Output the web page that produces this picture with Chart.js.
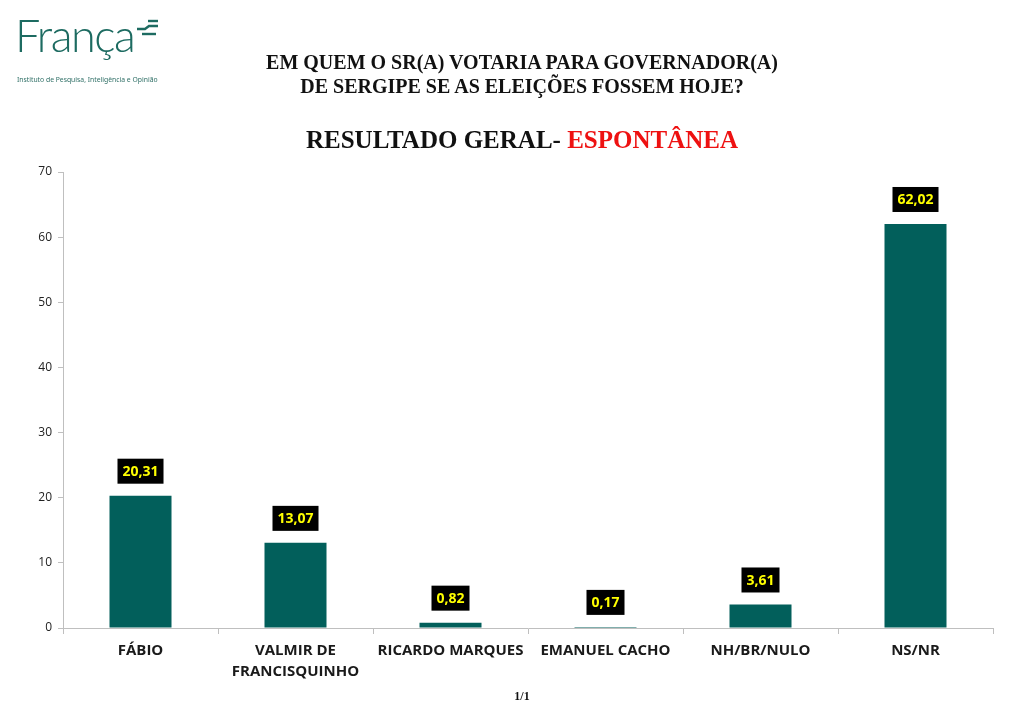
<!DOCTYPE html>
<html>
<head>
<meta charset="utf-8">
<script src="https://cdn.jsdelivr.net/npm/chart.js@4.4.1/dist/chart.umd.min.js"></script>
<style>
  html, body { margin: 0; padding: 0; background: #fff; }
  body { width: 1026px; height: 721px; position: relative; overflow: hidden; }
  #wrap { position: absolute; left: 0; top: 0; width: 1026px; height: 721px; }
  .logo { position: absolute; left: 15px; top: 13px; color: #1d6b61; font-family: "Lato", sans-serif; font-weight: 300; font-size: 45px; letter-spacing: -1.5px; line-height: 1; }
  .logo-sub { position: absolute; left: 17px; top: 75px; color: #2f6f66; font-family: "Noto Sans", sans-serif; font-size: 6.8px; white-space: nowrap; }
  .t1 { position: absolute; left: 0; width: 1044px; text-align: center; top: 50px; font-family: "Liberation Serif", serif; font-weight: bold; font-size: 20px; line-height: 24px; color: #111; }
  .t2 { position: absolute; left: 0; width: 1044px; text-align: center; top: 126px; font-family: "Liberation Serif", serif; font-weight: bold; font-size: 25px; color: #111; }
  .t2 span { color: #ee1111; }
  .page { position: absolute; left: 0; width: 1044px; text-align: center; top: 689px; font-family: "Liberation Serif", serif; font-weight: bold; font-size: 12px; color: #111; }
</style>
</head>
<body>
<div id="wrap"><canvas id="myChart"></canvas></div>
<div class="logo">França</div>
<svg style="position:absolute;left:134px;top:18px" width="28" height="22">
  <line x1="14" y1="3" x2="24" y2="3" stroke="#1d6b61" stroke-width="2.4"/>
  <polyline points="3,11 11,11 15,8 24,8" fill="none" stroke="#1d6b61" stroke-width="2.4"/>
  <line x1="8" y1="16" x2="22" y2="16" stroke="#1d6b61" stroke-width="2.4"/>
</svg>
<div class="logo-sub">Instituto de Pesquisa, Inteligência e Opinião</div>
<div class="t1">EM QUEM O SR(A) VOTARIA PARA GOVERNADOR(A)<br>DE SERGIPE SE AS ELEIÇÕES FOSSEM HOJE?</div>
<div class="t2">RESULTADO GERAL- <span>ESPONTÂNEA</span></div>
<div class="page">1/1</div>
<script>
const categorias = ["FÁBIO", ["VALMIR DE", "FRANCISQUINHO"], "RICARDO MARQUES", "EMANUEL CACHO", "NH/BR/NULO", "NS/NR"];
const percentuais = [20.31, 13.07, 0.82, 0.17, 3.61, 62.02];
const rotulos = ["20,31", "13,07", "0,82", "0,17", "3,61", "62,02"];

// caixas pretas com o valor em amarelo acima de cada barra
const caixaValor = {
    id: "caixaValor",
    afterDatasetsDraw(chart) {
        const ctx = chart.ctx;
        const meta = chart.getDatasetMeta(0);
        ctx.save();
        ctx.font = "bold 14px 'Open Sans', sans-serif";
        ctx.textAlign = "center";
        ctx.textBaseline = "middle";
        meta.data.forEach((bar, i) => {
            const txt = rotulos[i];
            const w = ctx.measureText(txt).width + 10;
            const h = 25;
            const cy = bar.y - 12 - h / 2;
            ctx.fillStyle = "#000";
            ctx.fillRect(bar.x - w / 2, cy - h / 2, w, h);
            ctx.fillStyle = "#ffff00";
            ctx.fillText(txt, bar.x, cy + 1);
        });
        ctx.restore();
    },
};

const myChart = new Chart(document.getElementById("myChart"), {
    type: "bar",
    data: {
        labels: categorias,
        datasets: [
            {
                data: percentuais,
                backgroundColor: "#025f5b",
                borderWidth: 0,
                categoryPercentage: 1,
                barPercentage: 0.4,
            },
        ],
    },
    plugins: [caixaValor],
    options: {
        responsive: true,
        maintainAspectRatio: false,
        animation: false,
        layout: {
            padding: { top: 172, right: 33, bottom: 20, left: 0 },
        },
        plugins: {
            legend: { display: false },
            tooltip: { enabled: false },
        },
        scales: {
            x: {
                afterFit: (s) => { s.height = 73; },
                grid: { display: true, drawOnChartArea: false, offset: true, tickLength: 6, color: "#bfbfbf" },
                border: { color: "#bfbfbf" },
                ticks: {
                    color: "#1a1a1a",
                    padding: 7,
                    font: { family: "'Open Sans', sans-serif", size: 15, weight: "bold", lineHeight: 1.35 },
                },
            },
            y: {
                min: 0,
                max: 70,
                afterFit: (s) => { s.width = 63; },
                grid: { display: true, drawOnChartArea: false, tickLength: 5, color: "#bfbfbf" },
                border: { color: "#bfbfbf" },
                ticks: {
                    stepSize: 10,
                    padding: 6,
                    color: "#222",
                    font: { family: "'Open Sans', sans-serif", size: 12 },
                },
            },
        },
    },
});
</script>
</body>
</html>
